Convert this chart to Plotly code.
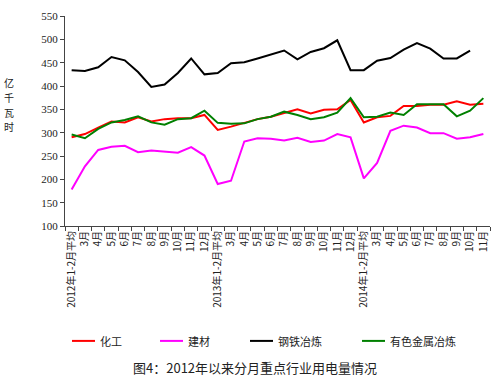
import plotly.graph_objects as go

months_a = ["3月", "4月", "5月", "6月", "7月", "8月", "9月", "10月", "11月", "12月"]
categories = (["2012年1-2月平均"] + months_a +
              ["2013年1-2月平均"] + months_a +
              ["2014年1-2月平均"] + months_a[:-1])
x_idx = list(range(len(categories)))

chem = [290, 297, 311, 324, 322, 333, 324, 329, 331, 331, 338,
        306, 313, 321, 329, 334, 342, 350, 341, 349, 350, 370,
        322, 333, 336, 357, 357, 360, 360, 367, 360, 362]
building = [178, 228, 263, 270, 272, 258, 262, 260, 257, 269, 251,
            190, 197, 281, 288, 287, 283, 289, 280, 283, 297, 290,
            202, 235, 304, 315, 311, 299, 299, 287, 290, 297]
steel = [434, 432, 440, 462, 455, 430, 398, 403, 428, 459, 425,
         428, 449, 451, 459, 467, 476, 457, 473, 481, 498, 434,
         434, 454, 460, 478, 492, 480, 459, 459, 476, None]
nonferrous = [296, 288, 308, 322, 327, 335, 322, 317, 329, 331, 347,
              321, 319, 320, 329, 334, 345, 338, 329, 333, 343, 374,
              333, 334, 343, 338, 361, 361, 361, 335, 347, 374]

series = [("化工", chem, "#FF0000"),
          ("建材", building, "#FF00FF"),
          ("钢铁冶炼", steel, "#000000"),
          ("有色金属冶炼", nonferrous, "#008000")]

fig = go.Figure()
for name, vals, color in series:
    fig.add_trace(go.Scatter(x=x_idx, y=vals, name=name, mode="lines",
                             line=dict(color=color, width=2), showlegend=False))

fig.update_layout(
    width=500, height=381,
    margin=dict(l=65, r=10, t=14, b=155),
    paper_bgcolor="white", plot_bgcolor="white",
    font=dict(family="Noto Sans CJK SC", size=10, color="#222"),
)
fig.update_xaxes(range=[-0.5, len(categories) - 0.5],
                 tickmode="array", tickvals=x_idx, ticktext=categories,
                 tickangle=-90, ticks="", ticklen=0,
                 minor=dict(tickmode="linear", tick0=-0.5, dtick=1, ticks="outside",
                            ticklen=4, tickcolor="#444", showgrid=False),
                 showline=True, linecolor="#444", linewidth=1,
                 showgrid=False, zeroline=False,
                 tickfont=dict(family="Noto Sans CJK SC", size=10, color="#222"))
fig.update_yaxes(range=[100, 550], dtick=50, ticks="outside", ticklen=4,
                 tickcolor="#444", showline=True, linecolor="#444", linewidth=1,
                 showgrid=False, zeroline=False,
                 tickfont=dict(family="Liberation Serif", size=11, color="#222"))

# plot area pixel geometry helpers for paper coordinates
L, R, T, B = 65, 490, 14, 226
def px(x):
    return (x - L) / (R - L)
def py(y):
    return (B - y) / (B - T)

for i, ch in enumerate("亿千瓦时"):
    fig.add_annotation(text=ch, xref="paper", yref="paper",
                       x=px(9), y=py(81 + 15 * i), xanchor="center", yanchor="middle",
                       showarrow=False, borderpad=0,
                       font=dict(family="Noto Sans CJK SC", size=10, color="#222"))

# custom legend
legend_pos = [72, 160, 250, 362]
for (name, vals, color), lx in zip(series, legend_pos):
    fig.add_shape(type="line", xref="paper", yref="paper",
                  x0=px(lx), x1=px(lx + 23), y0=py(342), y1=py(342),
                  line=dict(color=color, width=2))
    fig.add_annotation(text=name, xref="paper", yref="paper",
                       x=px(lx + 26), y=py(342), xanchor="left", yanchor="middle",
                       showarrow=False,
                       font=dict(family="Noto Sans CJK SC", size=11, color="#222"))

fig.add_annotation(text="图4：2012年以来分月重点行业用电量情况", xref="paper", yref="paper",
                   x=px(255), y=py(369), xanchor="center", yanchor="middle", showarrow=False,
                   font=dict(family="Noto Sans CJK SC", size=13, color="#222"))

fig.write_html("out.html", config={"displayModeBar": False},
               post_script="document.body.style.margin='0';")
